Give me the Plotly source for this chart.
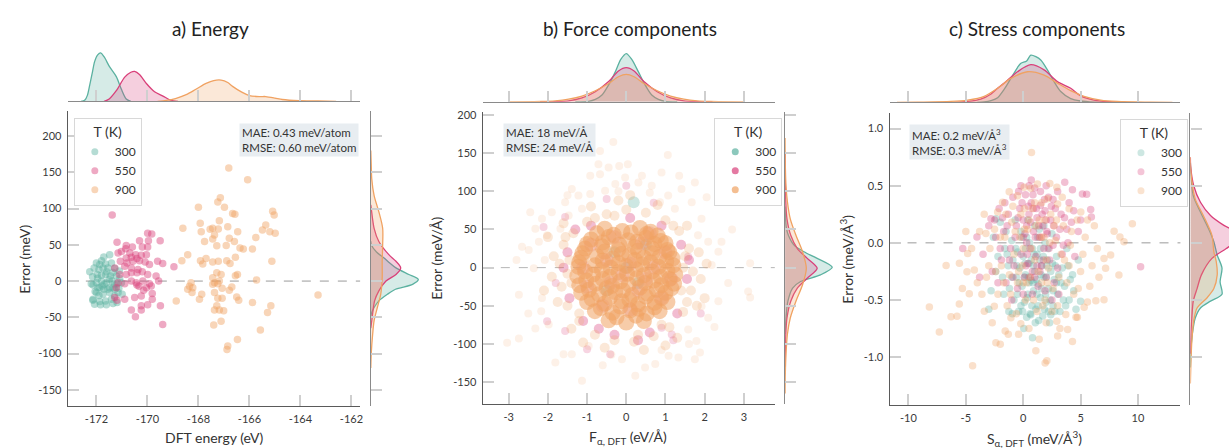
import plotly.graph_objects as go

W, H = 1232, 448
FONT = "Lato, 'Open Sans', sans-serif"
COLORS = {"300": "#5bb1a0", "550": "#d9407a", "900": "#f0a262"}
TEMPS = ["300", "550", "900"]

# ---------------- panel a) energy: (DFT energy eV, error meV) ----------------
a300 = [(-171.71, 33.2), (-171.48, 36.4), (-172.0, 25.0), (-171.87, 22.7), (-171.64, 23.6), (-171.41, 25.0),
        (-172.26, 12.7), (-172.09, 18.2), (-171.9, 16.0), (-171.74, 18.2), (-171.55, 18.2), (-171.28, 17.3),
        (-171.97, 9.1), (-171.8, 8.2), (-171.64, 9.1), (-171.45, 6.9), (-171.22, 6.9), (-171.09, 3.6),
        (-172.2, -3.6), (-172.0, -2.3), (-171.8, 0.0), (-171.61, -2.3), (-171.38, 0.0), (-171.19, -3.6),
        (-171.02, -2.3), (-171.87, -9.1), (-171.71, -11.4), (-171.48, -9.1), (-171.28, -11.4), (-172.05, -14.5),
        (-171.15, -15.9), (-172.14, -26.4), (-172.13, -5.5), (-171.94, -9.1), (-171.77, -6.8), (-171.55, -11.4),
        (-171.35, -9.1), (-171.12, -10.0), (-170.99, -18.2), (-172.0, -15.9), (-171.74, -18.2), (-171.48, -15.9),
        (-171.28, -20.5), (-172.13, -25.0), (-171.87, -28.2), (-171.64, -27.3), (-171.41, -25.0), (-172.07, -31.8),
        (-171.84, -32.7), (-171.35, -30.9), (-171.19, -29.5), (-171.61, -32.7), (-171.95, 4.0), (-171.6, 13.0),
        (-171.35, 12.0), (-172.15, 6.0), (-171.7, -4.5), (-171.5, 2.5), (-171.9, -20.0), (-171.3, -4.0),
        (-171.1, 14.0), (-171.8, 28.0)]
a550 = [(-171.38, 91.0), (-171.19, 53.7), (-170.83, 49.1), (-170.59, 46.9), (-170.31, 55.5), (-169.96, 55.5),
        (-169.99, 65.9), (-169.83, 65.0), (-169.5, 55.5), (-170.2, 46.9), (-169.99, 46.9), (-170.85, 44.6),
        (-171.02, 40.9), (-171.15, 38.7), (-170.69, 38.7), (-170.46, 36.4), (-170.24, 35.5), (-170.04, 36.4),
        (-170.83, 31.9), (-170.63, 32.8), (-170.41, 31.0), (-171.06, 27.3), (-170.8, 25.0), (-170.57, 27.3),
        (-170.31, 28.2), (-170.09, 26.4), (-169.92, 22.8), (-169.6, 27.3), (-169.4, 24.1), (-168.96, 19.6),
        (-171.28, 18.2), (-170.89, 20.5), (-170.63, 18.2), (-170.37, 16.0), (-170.63, 11.4), (-170.41, 11.4),
        (-170.2, 12.8), (-171.09, 9.1), (-170.83, 9.1), (-169.99, 9.1), (-169.66, 6.9), (-170.63, 0.0),
        (-170.44, -2.3), (-170.18, 0.0), (-169.92, -3.6), (-169.56, 0.0), (-171.15, -2.3), (-170.89, -3.6),
        (-170.33, -7.3), (-170.15, -12.7), (-170.04, -9.1), (-169.85, -6.8), (-169.81, -17.3), (-170.41, -5.5),
        (-171.22, -9.1), (-170.89, -25.0), (-170.5, -22.7), (-170.24, -20.5), (-169.81, -25.0), (-170.63, -40.0),
        (-170.24, -34.1), (-169.99, -32.7), (-169.49, -34.1), (-170.24, -40.0), (-170.47, -49.1), (-169.4, -60.0),
        (-171.19, -26.4), (-171.28, -22.7)]
a900 = [(-166.81, 156.0), (-166.07, 139.6), (-168.0, 101.9), (-167.24, 109.1), (-167.14, 115.0), (-166.98, 101.9),
        (-166.66, 93.2), (-166.57, 92.3), (-165.09, 96.4), (-165.03, 91.0), (-165.36, 77.3), (-165.49, 70.5),
        (-165.2, 68.2), (-164.99, 66.0), (-168.61, 72.8), (-167.93, 79.6), (-167.89, 68.2), (-167.54, 71.4),
        (-167.44, 72.8), (-167.22, 71.9), (-167.37, 63.7), (-167.18, 83.2), (-166.85, 75.0), (-166.79, 59.1),
        (-166.46, 68.2), (-167.44, 58.2), (-167.76, 54.6), (-166.59, 54.6), (-166.37, 45.5), (-166.24, 44.1),
        (-165.88, 44.1), (-167.28, 48.7), (-166.91, 49.1), (-167.92, 28.2), (-167.83, 23.7), (-168.42, 36.4),
        (-168.65, 28.2), (-167.7, 31.0), (-167.44, 26.4), (-167.22, 27.3), (-166.89, 28.2), (-166.55, 32.8),
        (-166.76, 24.1), (-166.47, 9.1), (-166.55, 7.4), (-165.12, 27.3), (-165.75, 60.0), (-167.28, 11.4),
        (-167.11, 9.1), (-167.44, 4.6), (-167.37, -2.2), (-167.18, 0.0), (-167.24, -3.6), (-165.72, 1.4),
        (-168.29, -2.2), (-168.35, -7.3), (-168.22, -9.1), (-168.25, -15.9), (-168.42, -11.4), (-167.87, -18.2),
        (-167.96, -25.0), (-168.87, -27.3), (-167.44, -4.5), (-167.07, -10.0), (-166.79, -12.7), (-166.69, -8.2),
        (-167.37, -15.9), (-167.24, -23.6), (-167.07, -23.6), (-167.28, -34.1), (-167.37, -40.0), (-167.18, -40.0),
        (-167.01, -40.9), (-166.5, -21.8), (-166.42, -26.4), (-165.88, -29.5), (-165.16, -34.1), (-165.29, -43.2),
        (-167.11, -55.5), (-167.4, -60.5), (-165.57, -67.3), (-166.47, -80.5), (-166.85, -89.5), (-166.88, -94.5),
        (-163.31, -19.1)]

# marginal densities (relative heights)
a_top_x = {
    "300": [-172.6, -172.45, -172.35, -172.26, -172.15, -172.07, -171.95, -171.83, -171.7, -171.48, -171.22, -171.02, -170.83, -170.65],
    "550": [-171.7, -171.5, -171.22, -170.89, -170.65, -170.5, -170.3, -170.04, -169.72, -169.39, -169.07, -168.8],
    "900": [-169.6, -169.26, -168.9, -168.48, -168.1, -167.7, -167.4, -167.11, -166.85, -166.66, -166.3, -166.0, -165.6, -165.36, -165.0, -164.71, -164.05, -163.3, -162.6],
}
a_top_d = {
    "300": [0, 0.03, 0.13, 0.34, 0.62, 0.82, 0.96, 1.0, 0.92, 0.71, 0.51, 0.25, 0.05, 0],
    "550": [0, 0.05, 0.22, 0.5, 0.6, 0.62, 0.55, 0.37, 0.2, 0.11, 0.02, 0],
    "900": [0, 0.02, 0.06, 0.14, 0.25, 0.37, 0.43, 0.44, 0.39, 0.31, 0.19, 0.12, 0.1, 0.1, 0.07, 0.04, 0.015, 0.01, 0],
}
a_right_y = {
    "300": [55, 50, 40, 31.8, 25, 18.2, 9.1, 2.3, -4.5, -11.3, -18.2, -27.3, -36.4, -45.5, -50],
    "550": [105, 100, 72.8, 54.6, 36.4, 27.3, 18.2, 9.1, 0, -13.6, -27.3, -50, -65],
    "900": [180, 160, 141, 118, 95.5, 72.8, 50, 27.3, 4.5, -18, -36, -54.5, -72.7, -100, -120],
}
a_right_d = {
    "300": [0, 0.01, 0.12, 0.28, 0.4, 0.53, 0.8, 1.0, 0.88, 0.52, 0.35, 0.17, 0.07, 0.01, 0],
    "550": [0, 0.01, 0.07, 0.17, 0.38, 0.53, 0.63, 0.53, 0.32, 0.17, 0.08, 0.03, 0],
    "900": [0, 0.01, 0.02, 0.07, 0.17, 0.25, 0.25, 0.24, 0.24, 0.21, 0.14, 0.07, 0.04, 0.01, 0],
}

# ---------------- panel b) force components: (F eV/Å, error meV/Å) ----------------
b900_core = [(-0.55, 51), (-0.1, 48), (0.35, 52), (0.62, 47),
             (-0.9, 37), (-0.45, 40), (0.05, 36), (0.5, 39), (0.88, 35),
             (-1.05, 25), (-0.62, 28), (-0.2, 24), (0.22, 27), (0.66, 25), (1.05, 23),
             (-1.15, 13), (-0.75, 15), (-0.35, 12), (0.08, 16), (0.45, 13), (0.85, 14), (1.18, 12),
             (-1.22, 1), (-0.8, 3), (-0.4, 0), (0.0, 2), (0.4, 4), (0.82, 1), (1.2, 3),
             (-1.25, -11), (-0.85, -9), (-0.42, -12), (0.02, -8), (0.45, -10), (0.88, -12), (1.25, -9),
             (-1.2, -23), (-0.78, -21), (-0.36, -24), (0.06, -22), (0.48, -20), (0.9, -23), (1.22, -21),
             (-1.15, -33), (-0.7, -35), (-0.28, -32), (0.15, -36), (0.55, -34), (1.0, -33),
             (-1.0, -45), (-0.55, -47), (-0.12, -44), (0.3, -48), (0.72, -46), (1.05, -45),
             (-0.8, -57), (-0.35, -59), (0.1, -56), (0.52, -60), (0.85, -57),
             (-0.45, -69), (0.0, -72), (0.45, -70),
             (-0.75, 45), (-0.32, 43), (0.12, 46), (0.52, 44), (0.8, 42),
             (-1.0, 31), (-0.6, 33), (-0.18, 30), (0.28, 34), (0.72, 31), (1.0, 32),
             (-1.12, 19), (-0.55, 21), (-0.12, 18), (0.3, 22), (0.66, 19), (1.1, 20),
             (-1.2, 7), (-0.6, 9), (-0.2, 6), (0.22, 10), (0.62, 7), (1.02, 8),
             (-1.05, -5), (-0.62, -3), (-0.2, -6), (0.24, -2), (0.66, -5), (1.05, -4),
             (-1.02, -17), (-0.6, -15), (-0.15, -18), (0.27, -14), (0.7, -17), (1.1, -15),
             (-0.95, -29), (-0.5, -27), (-0.08, -30), (0.35, -26), (0.78, -29), (1.15, -27),
             (-0.88, -41), (-0.42, -39), (0.08, -42), (0.5, -38), (0.9, -40),
             (-0.65, -53), (-0.15, -51), (0.32, -54), (0.72, -52),
             (-0.25, -65), (0.25, -63)]
b900_ring = [(-1.6, 30), (-1.7, 5), (-1.65, -25), (-1.5, -50), (-1.2, -70), (-0.8, -88), (-0.3, -95), (0.2, -97),
             (0.7, -90), (1.1, -78), (1.45, -58), (1.65, -30), (1.7, -5), (1.6, 25), (1.35, 48), (1.0, 62),
             (0.5, 72), (0.0, 76), (-0.5, 70), (-1.0, 60), (-1.35, 45), (-1.85, 15), (-1.9, -12), (-1.75, -45),
             (-1.4, -80), (-0.55, -105), (0.45, -108), (1.3, -92), (1.8, -50), (1.9, -15), (1.85, 20), (1.55, 55),
             (0.8, 82), (-0.2, 88), (-0.9, 80), (-1.6, 58), (-2.0, 40), (-2.1, -30), (2.05, 5), (2.0, -40),
             (0.1, 95), (-1.1, -98), (1.0, -102), (-1.45, 10), (1.45, 0), (1.4, -30), (-1.4, -20),
             (-1.5, -8), (1.5, 15), (-0.3, 68), (0.3, -88), (1.2, 55), (-1.2, -60), (0.9, -75), (-0.8, 65),
             (1.55, -45), (-1.55, 40)]
b900_halo = [(-0.33, 164.5), (-0.67, 152.8), (-0.71, 135.5), (-0.45, 131.2), (-0.18, 133.3), (-0.67, 122.5),
             (-0.92, 120.4), (0.04, 135.5), (1.06, 147.6), (0.9, 124.7), (1.35, 120.4), (1.75, 111.7), (2.05, 92.2),
             (-0.03, 118.2), (0.31, 111.7), (0.4, 120.4), (0.65, 107.4), (-0.28, 109.5), (-0.54, 100.9),
             (-0.92, 96.6), (-1.22, 94.4), (-1.39, 103.0), (-1.56, 85.7), (-1.9, 72.7), (-2.15, 64.1), (-2.45, 72.7),
             (-2.32, 51.1), (-2.02, 42.4), (-2.23, 33.8), (-2.49, 23.0), (-2.66, 27.3), (-2.08, 10.0), (-2.36, -0.9),
             (-2.74, -35.5), (1.67, 85.7), (1.92, 64.1), (1.83, 42.4), (2.09, 33.8), (2.35, 20.8), (2.43, 33.8),
             (2.18, 3.5), (3.16, 5.6), (1.41, 103.0), (1.07, 94.4), (1.24, 77.1), (0.86, 85.7), (-1.13, 77.1),
             (-1.47, 68.4), (-1.68, 51.1), (-3.04, -98.3), (-2.74, -92.7), (-2.32, -79.7), (-1.81, -124.3),
             (-1.6, -113.4), (-1.39, -113.4), (-1.13, -148.1), (-0.96, -102.6), (-0.38, -114.3), (-0.11, -119.9),
             (0.23, -141.6), (0.48, -130.8), (0.74, -126.4), (1.08, -115.6), (1.33, -117.8), (1.75, -119.9),
             (1.88, -111.3), (1.79, -96.1), (1.58, -81.0), (2.09, -65.8), (2.25, -77.9), (1.92, -50.7),
             (2.35, -44.2), (3.11, -31.2), (3.16, -39.0), (-2.17, -57.2), (-2.15, -39.8), (-1.98, -74.5),
             (-1.5, 95), (0.6, 98), (-0.2, 100), (1.6, -100), (-0.6, -128), (0.9, -108), (-2.5, -60), (2.6, -20),
             (-2.8, 10), (2.7, 50)]
b550_core = [(-0.9, 30), (-0.3, 40), (0.4, 32), (1.0, 20), (-1.1, 0), (-0.5, 10), (0.1, 5), (0.7, 0),
             (1.15, -15), (-1.0, -25), (-0.4, -20), (0.3, -30), (0.9, -40), (-0.6, -50), (0.1, -55), (0.6, 45),
             (-0.1, -10), (0.5, -15)]
b550_ring = [(-1.5, 20), (-1.45, -40), (-1.1, -70), (-0.3, -88), (0.6, -85), (1.3, -60), (1.55, -15), (1.4, 30),
             (0.9, 55), (0.1, 65), (-0.9, 55), (-1.6, 0), (1.6, 10), (-1.3, 50), (0.3, -95), (-0.7, -80)]
b550_halo = [(-2.11, 53.3), (0.0, 107.4), (-1.56, 66.3), (1.58, 14.3), (-2.02, -70.1), (-1.0, -106.9),
             (-0.41, -113.4), (0.9, -78.8), (-1.56, -83.1), (1.16, -87.5), (1.2, -95), (-1.8, -20), (1.9, -60),
             (-0.5, 90), (0.7, 85)]
b300_core = [(0.0, 0), (0.3, -20), (-0.3, 20), (0.5, 30), (-0.5, -30), (0.19, 85.7)]

b_top_x = {
    "300": [-1.3, -0.96, -0.79, -0.62, -0.45, -0.28, -0.14, 0, 0.14, 0.31, 0.48, 0.65, 0.82, 0.99, 1.3],
    "550": [-2.2, -1.81, -1.47, -1.13, -0.79, -0.45, -0.2, 0, 0.2, 0.45, 0.79, 1.13, 1.47, 1.81, 2.2],
    "900": [-3.0, -2.15, -1.81, -1.47, -1.13, -0.79, -0.45, -0.2, 0, 0.2, 0.45, 0.79, 1.13, 1.47, 1.81, 2.15, 3.0],
}
b_top_d = {
    "300": [0, 0.01, 0.05, 0.14, 0.35, 0.62, 0.88, 1.0, 0.88, 0.62, 0.35, 0.14, 0.05, 0.01, 0],
    "550": [0, 0.005, 0.02, 0.08, 0.21, 0.42, 0.64, 0.71, 0.64, 0.42, 0.21, 0.08, 0.02, 0.005, 0],
    "900": [0, 0.007, 0.02, 0.055, 0.12, 0.23, 0.38, 0.52, 0.57, 0.52, 0.38, 0.23, 0.12, 0.055, 0.02, 0.007, 0],
}
b_right_y = {
    "300": [80, 64, 51, 42.4, 29.5, 20.8, 12.1, 0.4, -9.5, -18.2, -26.8, -44, -66, -87],
    "550": [150, 116, 86, 64, 42.4, 25, 12.1, -0.9, -13.8, -26.8, -44, -66, -87, -130],
    "900": [170, 129, 107, 86, 64, 42.4, 20.8, -1, -22.5, -44, -66, -87, -113, -139, -165],
}
b_right_d = {
    "300": [0, 0.01, 0.03, 0.07, 0.19, 0.4, 0.68, 1.0, 0.75, 0.33, 0.16, 0.06, 0.02, 0],
    "550": [0, 0.005, 0.015, 0.04, 0.12, 0.26, 0.47, 0.68, 0.47, 0.26, 0.12, 0.04, 0.015, 0],
    "900": [0, 0.007, 0.02, 0.05, 0.11, 0.23, 0.37, 0.45, 0.37, 0.23, 0.11, 0.05, 0.02, 0.005, 0],
}

# ---------------- panel c) stress components: (S meV/Å3, error meV/Å3) ----------------
c300 = [(-2.6, 0.05), (-2.2, -0.12), (-2.0, 0.18), (-1.8, -0.3), (-1.6, -0.05), (-1.5, 0.1), (-1.3, -0.2),
        (-1.2, -0.4), (-1.0, 0.02), (-0.9, -0.15), (-0.8, -0.5), (-0.7, 0.2), (-0.6, -0.3), (-0.5, -0.08),
        (-0.4, -0.6), (-0.3, -0.22), (-0.2, 0.1), (-0.1, -0.38), (0.0, -0.12), (0.1, -0.52), (0.2, -0.28),
        (0.3, 0.05), (0.4, -0.45), (0.5, -0.18), (0.6, -0.62), (0.7, -0.33), (0.8, -0.05), (0.9, -0.42),
        (1.0, -0.25), (1.1, -0.58), (1.2, -0.1), (1.3, -0.36), (1.4, 0.12), (1.5, -0.48), (1.6, -0.2),
        (1.7, -0.64), (1.8, -0.3), (1.9, 0.0), (2.0, -0.52), (2.1, -0.15), (2.2, -0.4), (2.3, -0.7),
        (2.4, -0.25), (2.5, 0.08), (2.6, -0.55), (2.7, -0.32), (2.9, -0.12), (3.0, -0.45), (3.2, -0.6),
        (3.4, -0.22), (3.6, -0.38), (3.8, -0.05), (4.0, -0.5), (4.3, -0.28), (4.6, -0.58), (5.0, -0.51),
        (4.8, -0.15), (-2.8, -0.42), (-3.0, -0.58), (-2.38, 0.21), (0.81, -0.83), (0.66, -0.63), (2.4, -0.63),
        (0.5, -0.35), (1.2, -0.45), (0.2, -0.05), (1.6, -0.4), (0.9, -0.2), (1.3, -0.55), (0.1, -0.3),
        (2.0, -0.3), (-0.5, -0.45), (1.0, 0.15), (0.4, 0.2), (1.8, 0.15), (2.8, -0.2), (-1.0, -0.3),
        (0.7, -0.15), (1.5, -0.05), (2.2, -0.6), (0.3, -0.65), (-0.2, -0.55), (3.3, -0.35),
        (-1.7, -0.45), (-1.4, -0.1), (-0.95, -0.62), (-0.65, -0.05), (-0.35, -0.35), (-0.05, -0.6),
        (0.15, -0.18), (0.35, -0.48), (0.55, 0.0), (0.75, -0.55), (0.95, -0.1), (1.15, -0.32), (1.35, -0.68),
        (1.55, -0.28), (1.75, -0.12), (1.95, -0.45), (2.15, -0.05), (2.35, -0.5), (2.55, -0.18), (2.75, -0.6),
        (3.1, -0.28), (3.5, -0.5), (3.9, -0.2), (4.4, -0.42), (-2.4, -0.25), (-0.15, 0.05), (1.25, 0.05),
        (2.05, -0.2), (0.45, -0.3), (1.45, -0.15), (0.85, -0.35), (1.85, -0.58), (2.6, -0.42), (-0.55, -0.2),
        (3.7, -0.55), (0.05, -0.75), (1.05, -0.7), (2.9, -0.35), (-1.25, -0.6), (4.1, -0.32)]
c550 = [(-3.5, -0.1), (-3.0, 0.15), (-2.7, -0.25), (-2.4, 0.05), (-2.1, 0.3), (-1.9, -0.15), (-1.7, 0.1),
        (-1.5, -0.35), (-1.3, 0.25), (-1.1, -0.05), (-0.9, 0.4), (-0.8, -0.2), (-0.6, 0.15), (-0.5, -0.4),
        (-0.3, 0.3), (-0.2, -0.1), (0.0, 0.2), (0.1, -0.3), (0.2, 0.42), (0.3, 0.0), (0.4, -0.18), (0.5, 0.25),
        (0.6, -0.05), (0.7, 0.35), (0.8, -0.25), (0.9, 0.1), (1.0, 0.48), (1.1, -0.12), (1.2, 0.22),
        (1.3, -0.38), (1.4, 0.05), (1.5, 0.33), (1.6, -0.2), (1.7, 0.15), (1.8, -0.05), (1.9, 0.28),
        (2.0, -0.3), (2.1, 0.08), (2.2, 0.4), (2.3, -0.15), (2.4, 0.2), (2.6, -0.02), (2.8, 0.3), (3.0, -0.22),
        (3.2, 0.12), (3.4, -0.1), (3.6, 0.22), (3.9, 0.0), (4.2, 0.18), (4.5, -0.12), (4.8, 0.1), (3.62, 0.53),
        (4.29, 0.465), (5.16, 0.428), (5.53, 0.425), (5.88, 0.292), (5.94, 0.226), (10.23, -0.208),
        (-5.27, -0.049), (-4.03, 0.052), (-2.81, 0.211), (0.5, 0.5), (1.5, 0.45), (2.6, 0.38), (-0.4, 0.45),
        (0.8, -0.45), (1.9, -0.42), (-1.0, -0.5), (3.1, -0.45), (0.3, 0.15), (1.2, -0.2), (2.0, 0.2), (0.9, 0.3),
        (-1.6, 0.35), (4.0, 0.35), (-2.2, -0.35), (2.5, -0.5), (0.0, -0.45), (1.6, 0.05), (0.6, -0.3),
        (-2.5, 0.2), (-2.0, -0.05), (-1.4, 0.15), (-1.2, -0.15), (-0.7, 0.05), (-0.45, 0.22), (-0.1, 0.35),
        (0.15, 0.08), (0.35, -0.1), (0.45, 0.32), (0.65, 0.18), (0.85, 0.42), (1.05, 0.05), (1.15, 0.3),
        (1.35, 0.15), (1.45, -0.25), (1.65, 0.25), (1.85, 0.38), (2.05, 0.1), (2.25, -0.05), (2.45, 0.32),
        (2.65, 0.15), (2.9, 0.05), (3.3, 0.25), (3.5, -0.02), (3.8, 0.12), (4.4, 0.28), (5.0, 0.2),
        (-3.8, -0.3), (-0.9, -0.3), (0.25, -0.2), (2.7, -0.35), (1.0, -0.3), (0.0, 0.05), (1.75, -0.15),
        (-1.8, 0.22), (3.0, 0.45), (2.0, 0.5), (0.7, 0.55), (-0.2, 0.5)]
c900 = [(0.72, 0.79), (-1.22, 0.448), (0.08, 0.486), (0.66, 0.477), (2.32, 0.52), (2.93, 0.486), (7.92, 0.101),
        (9.51, 0.167), (8.43, 0.052), (8.78, 0.009), (8.34, -0.281), (7.18, -0.223), (7.04, -0.136),
        (7.62, -0.107), (6.46, -0.049), (-6.72, -0.199), (-5.56, -0.179), (-4.84, -0.093), (-4.9, -0.252),
        (-4.26, -0.237), (-3.25, 0.081), (-2.23, 0.269), (-1.8, 0.356), (-0.5, 0.413), (1.24, 0.515),
        (2.11, 0.385), (3.0, 0.341), (4.0, 0.298), (5.02, 0.269), (-8.18, -0.561), (-7.31, -0.78),
        (-6.29, -0.647), (-5.77, -0.642), (-5.57, -0.535), (-4.7, -0.445), (-4.41, -1.075), (-2.38, -0.873),
        (-2.0, -0.887), (-1.57, -0.772), (-0.21, -0.708), (1.39, -0.844), (1.1, -0.945), (1.91, -1.052),
        (2.06, -1.032), (3.0, -0.815), (3.87, -0.757), (4.29, -0.864), (5.31, -0.564), (5.6, -0.517),
        (6.33, -0.506), (7.04, -0.497), (-3.39, -0.598), (-2.52, -0.555), (-1.07, -0.656), (2.93, -0.685),
        (3.71, -0.627), (4.72, -0.65), (-3.8, 0.1), (-3.2, -0.3), (-2.9, -0.05), (-2.5, 0.12), (-2.2, -0.45),
        (-1.9, -0.2), (-1.6, 0.05), (-1.4, -0.55), (-1.2, -0.28), (-1.0, 0.18), (-0.8, -0.1), (-0.6, -0.62),
        (-0.4, -0.25), (-0.2, 0.25), (0.0, -0.05), (0.2, -0.5), (0.4, 0.12), (0.6, -0.3), (0.8, 0.3),
        (1.0, -0.15), (1.2, -0.6), (1.4, 0.2), (1.6, -0.35), (1.8, 0.05), (2.0, -0.7), (2.2, -0.22), (2.4, 0.25),
        (2.6, -0.4), (2.8, 0.02), (3.0, -0.55), (3.3, -0.1), (3.5, 0.15), (3.8, -0.35), (4.1, -0.02),
        (4.4, -0.45), (4.7, 0.2), (5.0, -0.25), (5.4, 0.05), (5.8, -0.38), (6.2, 0.15), (-4.5, -0.05),
        (-3.6, -0.45), (-5.0, 0.1), (6.0, -0.2), (0.5, -0.75), (1.6, 0.35), (-0.9, 0.32), (2.9, 0.2),
        (-2.7, -0.7), (4.6, -0.65), (0.1, 0.3), (1.9, -0.5), (3.4, 0.4), (-1.3, -0.8),
        (-2.0, 0.05), (-1.7, -0.35), (-1.5, 0.25), (-1.1, -0.45), (-0.7, 0.1), (-0.5, -0.35), (-0.3, 0.05),
        (-0.1, -0.2), (0.1, 0.12), (0.3, -0.35), (0.5, 0.2), (0.7, -0.05), (0.9, -0.5), (1.1, 0.15),
        (1.3, -0.25), (1.5, 0.05), (1.7, -0.55), (1.9, 0.2), (2.1, -0.35), (2.3, 0.0), (2.5, -0.6), (2.7, 0.15),
        (3.1, -0.3), (3.6, -0.15), (4.2, 0.1), (4.8, -0.4), (5.2, -0.1), (5.6, 0.2), (-3.0, -0.2),
        (-2.4, -0.25), (-4.0, -0.35), (-3.4, 0.25), (6.6, -0.3), (-5.3, -0.4), (0.0, -0.35), (1.0, 0.35),
        (2.0, -0.15), (3.2, -0.75), (-0.4, -0.8), (4.0, -0.2)]

c_top_x = {
    "300": [-4, -3.4, -2.8, -2.23, -1.65, -1.07, -0.5, -0.2, 0.3, 0.66, 1.1, 1.53, 2.11, 2.69, 3.27, 4.14, 5.0, 6.17, 7],
    "550": [-6, -4.84, -3.7, -2.8, -2.23, -1.65, -0.5, 0.66, 1.82, 2.98, 4.14, 5.0, 6.17, 7.6, 9],
    "900": [-11, -9.2, -6.3, -4.84, -3.4, -2.23, -1.07, 0.37, 1.82, 2.98, 4.14, 5.3, 6.75, 8.2, 11.1, 13],
}
c_top_d = {
    "300": [0, 0.01, 0.04, 0.1, 0.28, 0.51, 0.74, 0.83, 0.88, 1.0, 0.97, 0.9, 0.69, 0.44, 0.23, 0.08, 0.03, 0.005, 0],
    "550": [0, 0.02, 0.07, 0.18, 0.3, 0.41, 0.65, 0.8, 0.69, 0.44, 0.3, 0.14, 0.05, 0.015, 0],
    "900": [0, 0.005, 0.02, 0.05, 0.13, 0.3, 0.51, 0.65, 0.58, 0.41, 0.25, 0.13, 0.05, 0.02, 0.005, 0],
}
c_right_y = {
    "300": [0.7, 0.645, 0.413, 0.27, 0.124, 0.01, -0.107, -0.22, -0.34, -0.45, -0.51, -0.57, -0.66, -0.8, -0.94, -1.09],
    "550": [0.75, 0.67, 0.5, 0.355, 0.24, 0.153, 0.081, 0.0, -0.05, -0.136, -0.28, -0.4, -0.51, -0.66, -0.8, -0.97],
    "900": [0.75, 0.645, 0.385, 0.24, 0.066, -0.078, -0.165, -0.28, -0.4, -0.48, -0.57, -0.68, -0.86, -1.06, -1.23],
}
c_right_d = {
    "300": [0, 0.005, 0.06, 0.21, 0.38, 0.49, 0.56, 0.66, 0.62, 0.66, 0.42, 0.21, 0.1, 0.04, 0.01, 0],
    "550": [0, 0.005, 0.07, 0.21, 0.42, 0.7, 1.0, 0.9, 0.75, 0.45, 0.23, 0.14, 0.06, 0.03, 0.01, 0],
    "900": [0, 0.005, 0.1, 0.27, 0.45, 0.49, 0.54, 0.56, 0.49, 0.35, 0.14, 0.07, 0.03, 0.01, 0],
}

# tick values / labels
a_xticks = [-172, -170, -168, -166, -164, -162]
a_xlabels = ["-172", "-170", "-168", "-166", "-164", "-162"]
err_yticks = [-150, -100, -50, 0, 50, 100, 150, 200]
err_ylabels = ["-150", "-100", "-50", "0", "50", "100", "150", "200"]
b_xticks = [-3, -2, -1, 0, 1, 2, 3]
b_xlabels = ["-3", "-2", "-1", "0", "1", "2", "3"]
c_xticks = [-10, -5, 0, 5, 10]
c_xlabels = ["-10", "-5", "0", "5", "10"]
c_yticks = [-1.0, -0.5, 0.0, 0.5, 1.0]
c_ylabels = ["-1.0", "-0.5", "0.0", "0.5", "1.0"]


# ---------------- helpers ----------------
def rgba(hexc, a):
    h = hexc.lstrip("#")
    return "rgba(%d,%d,%d,%.3f)" % (int(h[0:2], 16), int(h[2:4], 16), int(h[4:6], 16), a)


def pxx(p):
    return p / W


def pxy(p):
    return 1 - p / H


def ax(n):
    return ("x" if n == 1 else "x%d" % n), ("y" if n == 1 else "y%d" % n)


def lk(n, axis):
    return (axis + "axis") if n == 1 else (axis + "axis%d" % n)


fig = go.Figure()
layout = {}
shapes = []
annotations = []

TICKF = dict(size=11, color="#3a3a3a", family=FONT)


def panel(base, box, top_base, right_left, xr, yr, xt, xl, yt, yl, dens_scale_top, dens_scale_right):
    L, T, R, B = box
    n_main, n_top, n_right = base, base + 1, base + 2
    common = dict(ticks="inside", ticklen=11, tickwidth=1.5, tickcolor="#cfcfcf", showgrid=False,
                  zeroline=False)
    layout[lk(n_main, "x")] = dict(domain=[pxx(L), pxx(R)], range=xr, anchor=ax(n_main)[1], showline=True,
                                   linecolor="#5a5a5a", linewidth=1.3, tickvals=xt, ticktext=xl,
                                   tickfont=TICKF, ticklabelstandoff=2, **common)
    layout[lk(n_main, "y")] = dict(domain=[pxy(B), pxy(T)], range=yr, anchor=ax(n_main)[0], showline=True,
                                   linecolor="#5a5a5a", linewidth=1.3, tickvals=yt, ticktext=yl,
                                   tickfont=TICKF, ticklabelstandoff=3, **common)
    # top marginal
    layout[lk(n_top, "x")] = dict(domain=[pxx(L), pxx(R)], range=xr, anchor=ax(n_top)[1], showline=True,
                                  linecolor="#8a8a8a", linewidth=1.3, tickvals=xt, showticklabels=False,
                                  **common)
    layout[lk(n_top, "y")] = dict(domain=[pxy(top_base), pxy(top_base - dens_scale_top * 1.08)],
                                  range=[0, 1.08], anchor=ax(n_top)[0], visible=False)
    # right marginal
    rr = min(right_left + dens_scale_right * 1.08, W)
    layout[lk(n_right, "x")] = dict(domain=[pxx(right_left), pxx(rr)],
                                    range=[0, (rr - right_left) / dens_scale_right],
                                    anchor=ax(n_right)[1], visible=False)
    layout[lk(n_right, "y")] = dict(domain=[pxy(B), pxy(T)], range=yr, anchor=ax(n_right)[0], showline=True,
                                    linecolor="#8a8a8a", linewidth=1.3, tickvals=yt, showticklabels=False,
                                    **common)
    return n_main, n_top, n_right


def marg_top(n, xs, ds, c):
    xa, ya = ax(n)
    fig.add_trace(go.Scatter(x=xs, y=ds, mode="lines", xaxis=xa, yaxis=ya, showlegend=False,
                             line=dict(color=c, width=1.3, shape="spline", smoothing=0.8),
                             fill="tozeroy", fillcolor=rgba(c, 0.25), hoverinfo="skip"))


def marg_right(n, ys, ds, c):
    xa, ya = ax(n)
    fig.add_trace(go.Scatter(x=ds, y=ys, mode="lines", xaxis=xa, yaxis=ya, showlegend=False,
                             line=dict(color=c, width=1.3, shape="spline", smoothing=0.8),
                             fill="tozerox", fillcolor=rgba(c, 0.25), hoverinfo="skip"))


def pts(n, data, c, size, op):
    xa, ya = ax(n)
    fig.add_trace(go.Scatter(x=[p[0] for p in data], y=[p[1] for p in data], mode="markers",
                             xaxis=xa, yaxis=ya, showlegend=False, hoverinfo="skip",
                             marker=dict(size=size, color=c, opacity=op, line=dict(width=0))))


def legend_entries(n, legname, op):
    xa, ya = ax(n)
    for t in TEMPS:
        fig.add_trace(go.Scatter(x=[None], y=[None], mode="markers", name=t, legend=legname,
                                 xaxis=xa, yaxis=ya,
                                 marker=dict(size=7, color=COLORS[t], opacity=op, line=dict(width=0))))


def zero_line(n, color, dash):
    xa, ya = ax(n)
    shapes.append(dict(type="line", xref=xa + " domain", yref=ya, x0=0, x1=1, y0=0, y1=0, layer="below",
                       line=dict(color=color, width=1, dash=dash)))


# ---------------- panel a ----------------
na, nat, nar = panel(1, (68, 108, 361, 406), 98.3, 371.7, [-173.12, -161.66], [-172.8, 234.5],
                     a_xticks, a_xlabels, err_yticks, err_ylabels, 49, 47.6)
zero_line(na, "#9a9a9a", "dash")
for t, d in zip(TEMPS, [a300, a550, a900]):
    pts(na, d, COLORS[t], 7.5, 0.45)
for t in TEMPS:
    marg_top(nat, a_top_x[t], a_top_d[t], COLORS[t])
    marg_right(nar, a_right_y[t], a_right_d[t], COLORS[t])
legend_entries(na, "legend", 0.45)

# ---------------- panel b ----------------
nb, nbt, nbr = panel(4, (484, 109, 776.7, 404), 98.7, 787, [-3.66, 3.79], [-179.2, 203.9],
                     b_xticks, b_xlabels, err_yticks, err_ylabels, 48.7, 47.3)
zero_line(nb, "#b5b5b5", "dash")
pts(nb, b300_core, COLORS["300"], 12, 0.3)
pts(nb, b550_core, COLORS["550"], 14, 0.22)
pts(nb, b550_halo, COLORS["550"], 8, 0.22)
pts(nb, b550_ring, COLORS["550"], 10, 0.35)
pts(nb, b900_halo, COLORS["900"], 8, 0.15)
pts(nb, b900_ring, COLORS["900"], 10, 0.25)
pts(nb, b900_core, COLORS["900"], 16, 0.55)
for t in TEMPS:
    marg_top(nbt, b_top_x[t], b_top_d[t], COLORS[t])
    marg_right(nbr, b_right_y[t], b_right_d[t], COLORS[t])
legend_entries(nb, "legend2", 0.7)

# ---------------- panel c ----------------
nc, nct, ncr = panel(7, (891.7, 110, 1183.3, 405), 99.3, 1193.3, [-11.65, 13.7], [-1.422, 1.136],
                     c_xticks, c_xlabels, c_yticks, c_ylabels, 47.6, 48)
zero_line(nc, "#9a9a9a", "dash")
for t, d in zip(TEMPS, [c300, c550, c900]):
    pts(nc, d, COLORS[t], 7.5, 0.33)
for t in TEMPS:
    marg_top(nct, c_top_x[t], c_top_d[t], COLORS[t])
    marg_right(ncr, c_right_y[t], c_right_d[t], COLORS[t])
legend_entries(nc, "legend3", 0.3)


# ---------------- texts ----------------
def text(x, y, s, size, angle=0, color="#222"):
    annotations.append(dict(xref="paper", yref="paper", x=pxx(x), y=pxy(y), text=s, showarrow=False,
                            xanchor="center", yanchor="middle", textangle=angle,
                            font=dict(size=size, color=color, family=FONT)))


text(211, 25, "a) Energy", 19)
text(631.5, 25, "b) Force components", 19)
text(1040, 25, "c) Stress components", 19)
text(214.5, 437, "DFT energy (eV)", 14, color="#333")
text(630, 437, "F<sub>α, DFT</sub> (eV/Å)", 14, color="#333")
text(1037.5, 438, "S<sub>α, DFT</sub> (meV/Å<sup>3</sup>)", 14, color="#333")
text(25, 257, "Error (meV)", 14, -90, "#333")
text(438, 256, "Error (meV/Å)", 14, -90, "#333")
text(849, 257, "Error (meV/Å<sup>3</sup>)", 14, -90, "#333")


def stat_box(x, y, s):
    annotations.append(dict(xref="paper", yref="paper", x=pxx(x), y=pxy(y), text=s, showarrow=False,
                            xanchor="left", yanchor="top", align="left", bgcolor="#e8edf1", borderpad=2,
                            font=dict(size=11.5, color="#333", family=FONT)))


stat_box(240, 120, "MAE: 0.43 meV/atom<br>RMSE: 0.60 meV/atom")
stat_box(504.3, 120, "MAE: 18 meV/Å<br>RMSE: 24 meV/Å")
stat_box(911, 120.7, "MAE: 0.2 meV/Å<sup>3</sup><br>RMSE: 0.3 meV/Å<sup>3</sup>")


def leg(x, y):
    return dict(x=pxx(x), y=pxy(y), xanchor="left", yanchor="top", bgcolor="white", bordercolor="#d8d8d8",
                borderwidth=1, font=dict(size=12, color="#333", family=FONT), itemsizing="trace",
                title=dict(text="T (K)", font=dict(size=14, color="#333", family=FONT), side="top center"),
                tracegroupgap=0, itemwidth=30)


layout["legend"] = leg(74, 115)
layout["legend2"] = leg(716, 115)
layout["legend3"] = leg(1122.7, 116)

fig.update_layout(width=W, height=H, margin=dict(l=0, r=0, t=0, b=0), paper_bgcolor="white",
                  plot_bgcolor="white", font=dict(family=FONT), shapes=shapes, annotations=annotations,
                  showlegend=True, **layout)
fig.write_html("out.html")
